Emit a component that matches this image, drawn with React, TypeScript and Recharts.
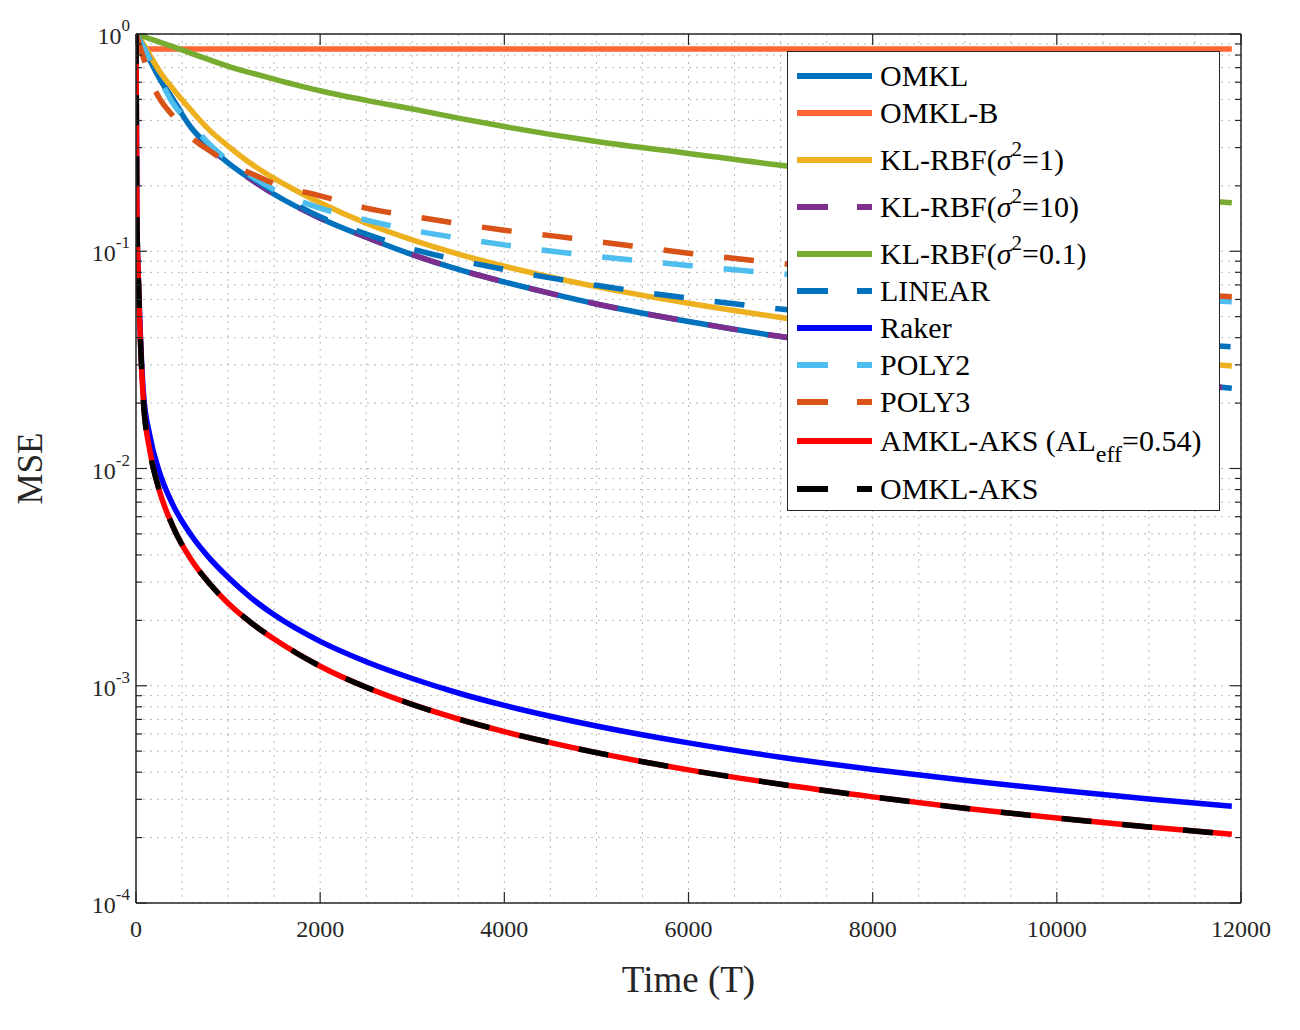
import React from 'react';
import { LineChart, Line, XAxis, YAxis, CartesianGrid, Legend } from 'recharts';

const SERIF = '"Liberation Serif", "Times New Roman", Times, serif';
const INK = '#262626';

// ---- data ----
const TIME = [0, 10, 20, 40, 80, 150, 250, 400, 600, 800, 1000, 1250, 1500, 2000, 2500, 3000, 3500, 4000, 4500, 5000, 6000, 7000, 8000, 9000, 10000, 11000, 11900];

const OMKL = [1.0, 0.98, 0.96, 0.93, 0.87, 0.76, 0.63, 0.5, 0.37, 0.302, 0.255, 0.214, 0.183, 0.142, 0.116, 0.0965, 0.0825, 0.0722, 0.064, 0.0572, 0.0475, 0.0405, 0.0355, 0.0314, 0.0281, 0.0254, 0.0234];
const OMKL_B = [0.86, 0.855, 0.853, 0.853, 0.853, 0.853, 0.853, 0.853, 0.853, 0.853, 0.853, 0.853, 0.853, 0.853, 0.853, 0.853, 0.853, 0.853, 0.853, 0.853, 0.853, 0.853, 0.853, 0.853, 0.853, 0.853, 0.853];
const KL_RBF_1 = [1.0, 0.99, 0.975, 0.95, 0.9, 0.8, 0.68, 0.56, 0.445, 0.36, 0.305, 0.2528, 0.2165, 0.1671, 0.1346, 0.1128, 0.0971, 0.0853, 0.0761, 0.0687, 0.0576, 0.0496, 0.04355, 0.03885, 0.03508, 0.03198, 0.0296];
const KL_RBF_10 = [1.0, 0.98, 0.96, 0.93, 0.87, 0.76, 0.63, 0.5, 0.37, 0.302, 0.255, 0.214, 0.183, 0.142, 0.116, 0.0965, 0.0825, 0.0722, 0.064, 0.0572, 0.0475, 0.0405, 0.0355, 0.0314, 0.0281, 0.0254, 0.0234];
const KL_RBF_01 = [1.0, 0.9967, 0.9934, 0.987, 0.974, 0.951, 0.92, 0.875, 0.815, 0.76, 0.71, 0.662, 0.62, 0.548, 0.495, 0.452, 0.41, 0.375, 0.345, 0.32, 0.282, 0.249, 0.225, 0.206, 0.19, 0.177, 0.167];
const LINEAR = [1.0, 0.98, 0.96, 0.93, 0.87, 0.76, 0.63, 0.5, 0.375, 0.307, 0.26, 0.219, 0.188, 0.144, 0.12, 0.1023, 0.0911, 0.0824, 0.0754, 0.0697, 0.0608, 0.0542, 0.049, 0.0449, 0.0414, 0.0386, 0.0363];
const RAKER = [1.0, 0.14, 0.09, 0.05, 0.0224, 0.0142, 0.00975, 0.00682, 0.00493, 0.00386, 0.00316, 0.00254, 0.00212, 0.0016, 0.00129, 0.00108, 0.000926, 0.000812, 0.000724, 0.000653, 0.000546, 0.000469, 0.000412, 0.000367, 0.000331, 0.000301, 0.000279];
const POLY2 = [1.0, 0.98, 0.96, 0.93, 0.87, 0.76, 0.63, 0.48, 0.385, 0.31, 0.262, 0.222, 0.192, 0.158, 0.139, 0.125, 0.115, 0.107, 0.1002, 0.0948, 0.086, 0.0788, 0.073, 0.068, 0.0642, 0.061, 0.0585];
const POLY3 = [1.0, 0.97, 0.94, 0.88, 0.78, 0.62, 0.51, 0.42, 0.335, 0.29, 0.255, 0.228, 0.205, 0.18, 0.158, 0.145, 0.134, 0.125, 0.118, 0.111, 0.098, 0.088, 0.08, 0.074, 0.069, 0.065, 0.0618];
const AMKL_AKS = [1.0, 0.14, 0.09, 0.048, 0.0205, 0.0121, 0.008, 0.00542, 0.0038, 0.00295, 0.0024, 0.00195, 0.00164, 0.00123, 0.000984, 0.00082, 0.000703, 0.000615, 0.000547, 0.000492, 0.00041, 0.000352, 0.000308, 0.000273, 0.000246, 0.000224, 0.000207];
const OMKL_AKS = [1.0, 0.14, 0.09, 0.048, 0.0205, 0.0121, 0.008, 0.00542, 0.0038, 0.00295, 0.0024, 0.00195, 0.00164, 0.00123, 0.000984, 0.00082, 0.000703, 0.000615, 0.000547, 0.000492, 0.00041, 0.000352, 0.000308, 0.000273, 0.000246, 0.000224, 0.000207];

const X_TICKS = [0, 500, 1000, 1500, 2000, 2500, 3000, 3500, 4000, 4500, 5000, 5500, 6000, 6500, 7000, 7500, 8000, 8500, 9000, 9500, 10000, 10500, 11000, 11500, 12000];
const X_LABELLED = [0, 2000, 4000, 6000, 8000, 10000, 12000];
const Y_DECADES = [0.0001, 0.001, 0.01, 0.1, 1];
const Y_EXPONENTS = ['-4', '-3', '-2', '-1', '0'];
const Y_MANTISSAS = [1, 2, 3, 4, 5, 6, 7, 8, 9];

const Y_TICKS: number[] = [];
Y_DECADES.forEach((d, i) => {
  if (i === Y_DECADES.length - 1) { Y_TICKS.push(d); return; }
  Y_MANTISSAS.forEach((m) => Y_TICKS.push(m === 1 ? d : m * d));
});

const DASH = '30 31';

function Sup({ children }: { children: React.ReactNode }) {
  return <span style={{ fontSize: 21, position: 'relative', top: -14, lineHeight: 0 }}>{children}</span>;
}
function Sub({ children }: { children: React.ReactNode }) {
  return <span style={{ fontSize: 24, position: 'relative', top: 11, lineHeight: 0 }}>{children}</span>;
}

const SERIES = [
  { key: 'omkl', name: 'OMKL', values: OMKL, color: '#0072BD', dash: undefined as string | undefined, label: <>OMKL</>, extra: '' },
  { key: 'omklb', name: 'OMKL-B', values: OMKL_B, color: '#FF6633', dash: undefined, label: <>OMKL-B</>, extra: '' },
  { key: 'rbf1', name: 'KL-RBF(σ2=1)', values: KL_RBF_1, color: '#EDB120', dash: undefined, label: <>KL-RBF(<i>σ</i><Sup>2</Sup>=1)</>, extra: 'sup' },
  { key: 'rbf10', name: 'KL-RBF(σ2=10)', values: KL_RBF_10, color: '#7E2F8E', dash: DASH, label: <>KL-RBF(<i>σ</i><Sup>2</Sup>=10)</>, extra: 'sup' },
  { key: 'rbf01', name: 'KL-RBF(σ2=0.1)', values: KL_RBF_01, color: '#77AC30', dash: undefined, label: <>KL-RBF(<i>σ</i><Sup>2</Sup>=0.1)</>, extra: 'sup' },
  { key: 'linear', name: 'LINEAR', values: LINEAR, color: '#0072BD', dash: DASH, label: <>LINEAR</>, extra: '' },
  { key: 'raker', name: 'Raker', values: RAKER, color: '#0000FF', dash: undefined, label: <>Raker</>, extra: '' },
  { key: 'poly2', name: 'POLY2', values: POLY2, color: '#4DBEEE', dash: DASH, label: <>POLY2</>, extra: '' },
  { key: 'poly3', name: 'POLY3', values: POLY3, color: '#D95319', dash: DASH, label: <>POLY3</>, extra: '' },
  { key: 'amkl', name: 'AMKL-AKS (ALeff=0.54)', values: AMKL_AKS, color: '#FF0000', dash: undefined, label: <>AMKL-AKS (AL<Sub>eff</Sub>=0.54)</>, extra: 'sub' },
  { key: 'omklaks', name: 'OMKL-AKS', values: OMKL_AKS, color: '#000000', dash: DASH, label: <>OMKL-AKS</>, extra: '' },
];

const ROWS = TIME.map((t, i) => {
  const row: Record<string, number> = { t };
  SERIES.forEach((s) => { row[s.key] = s.values[i]; });
  return row;
});

// ---- axis ticks ----
const BottomTick = (props: any) => {
  const { x, y, payload } = props;
  const v = payload.value;
  if (!X_LABELLED.includes(v)) return <g />;
  return (
    <g>
      <line x1={x} y1={y} x2={x} y2={y - 11} stroke={INK} strokeWidth={1.2} />
      <text x={x} y={y + 34} textAnchor="middle" fontSize={24} fontFamily={SERIF} fill={INK}>{v}</text>
    </g>
  );
};

const TopTick = (props: any) => {
  const { x, y, payload } = props;
  if (!X_LABELLED.includes(payload.value)) return <g />;
  return <line x1={x} y1={y} x2={x} y2={y + 11} stroke={INK} strokeWidth={1.2} />;
};

const LeftTick = (props: any) => {
  const { x, y, payload } = props;
  const idx = Y_DECADES.indexOf(payload.value);
  const major = idx >= 0;
  return (
    <g>
      <line x1={x} y1={y} x2={x + (major ? 11 : 6)} y2={y} stroke={INK} strokeWidth={1.2} />
      {major && (
        <text x={x - 6} y={y + 10} textAnchor="end" fontFamily={SERIF} fill={INK}>
          <tspan fontSize={24}>10</tspan>
          <tspan fontSize={17} dy={-13}>{Y_EXPONENTS[idx]}</tspan>
        </text>
      )}
    </g>
  );
};

const RightTick = (props: any) => {
  const { x, y, payload } = props;
  const major = Y_DECADES.includes(payload.value);
  return <line x1={x} y1={y} x2={x - (major ? 11 : 6)} y2={y} stroke={INK} strokeWidth={1.2} />;
};

// ---- legend ----
const renderLegend = (props: any) => {
  const payload: any[] = props && props.payload ? props.payload : [];
  return (
    <div style={{ width: 433, height: 460, boxSizing: 'border-box', border: `1.5px solid ${INK}`, background: '#fff', paddingTop: 5, fontFamily: SERIF, color: '#000' }}>
      {SERIES.map((s) => {
        const entry = payload.find((p) => p.dataKey === s.key || p.value === s.name);
        const color = entry && entry.color ? entry.color : s.color;
        return (
          <div key={s.key} style={{ display: 'flex', alignItems: 'center', height: 37, marginTop: s.extra === 'sup' ? 10 : s.extra === 'sub' ? 2 : 0, marginBottom: s.extra === 'sub' ? 11 : 0 }}>
            <svg width={86} height={12} style={{ flex: '0 0 auto' }}>
              <line x1={9} y1={6} x2={84} y2={6} stroke={color} strokeWidth={6} strokeDasharray={s.dash ? '31 29' : undefined} />
            </svg>
            <span style={{ fontSize: 30, marginLeft: 6, lineHeight: '37px', whiteSpace: 'nowrap' }}>{s.label}</span>
          </div>
        );
      })}
    </div>
  );
};

export default function App() {
  return (
    <div style={{ width: 1290, height: 1010, background: '#fff' }}>
      <LineChart width={1290} height={1010} data={ROWS} margin={{ top: 25, right: 56, bottom: 0, left: 0 }} style={{ fontFamily: SERIF }}>
        <CartesianGrid stroke="#b8b8b8" strokeWidth={1} strokeDasharray="2 5" />
        <XAxis dataKey="t" type="number" domain={[0, 12000]} ticks={X_TICKS} interval={0} allowDataOverflow height={115}
          tickSize={0} tickMargin={0} tickLine={false} tick={<BottomTick />} axisLine={{ stroke: INK, strokeWidth: 1.5 }}
          label={(lp: any) => {
            const vb = lp.viewBox || {};
            return <text x={vb.x + vb.width / 2} y={vb.y + 89} textAnchor="middle" fontSize={37} fontFamily={SERIF} fill={INK}>Time (T)</text>;
          }} />
        <XAxis xAxisId="top" orientation="top" dataKey="t" type="number" domain={[0, 12000]} ticks={X_TICKS} interval={0} allowDataOverflow height={1}
          tickSize={0} tickMargin={0} tickLine={false} tick={<TopTick />} axisLine={{ stroke: INK, strokeWidth: 1.5 }} />
        <YAxis type="number" scale="log" domain={[0.0001, 1]} ticks={Y_TICKS} interval={0} allowDataOverflow width={128}
          tickSize={0} tickMargin={0} tickLine={false} tick={<LeftTick />} axisLine={{ stroke: INK, strokeWidth: 1.5 }}
          label={(lp: any) => {
            const vb = lp.viewBox || {};
            const cx = vb.x + 22;
            const cy = vb.y + vb.height / 2;
            return <text x={cx} y={cy} transform={`rotate(-90 ${cx} ${cy})`} textAnchor="middle" dominantBaseline="central" fontSize={35} fontFamily={SERIF} fill={INK}>MSE</text>;
          }} />
        <YAxis yAxisId="r" orientation="right" type="number" scale="log" domain={[0.0001, 1]} ticks={Y_TICKS} interval={0} allowDataOverflow width={1}
          tickSize={0} tickMargin={0} tickLine={false} tick={<RightTick />} axisLine={{ stroke: INK, strokeWidth: 1.5 }} />
        {SERIES.map((s) => (
          <Line key={s.key} dataKey={s.key} name={s.name} type="monotone" stroke={s.color} strokeWidth={5.5}
            strokeDasharray={s.dash} dot={false} activeDot={false} isAnimationActive={false} />
        ))}
        <Legend layout="horizontal" verticalAlign="middle" align="center" content={renderLegend}
          wrapperStyle={{ left: 779, top: 43, width: 433, height: 460 }} />
      </LineChart>
    </div>
  );
}
